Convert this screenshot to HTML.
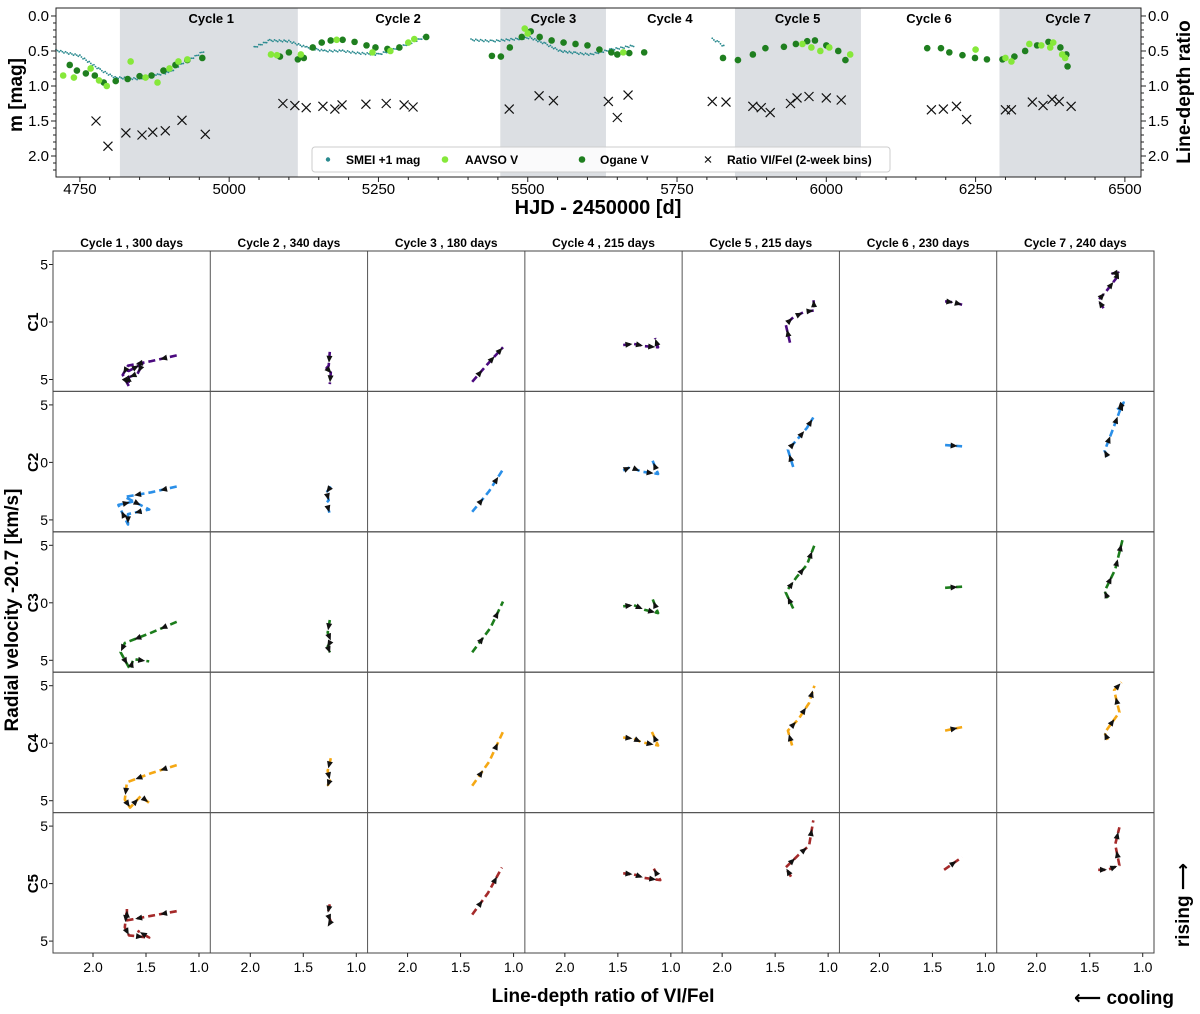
<!DOCTYPE html>
<html><head><meta charset="utf-8">
<style>
html,body{margin:0;padding:0;background:#fff;}
svg{display:block;font-family:"Liberation Sans","DejaVu Sans",sans-serif;}
</style></head>
<body>
<svg id="chart" width="1200" height="1014" viewBox="0 0 1200 1014" xmlns="http://www.w3.org/2000/svg">
<g id="toppanel"></g>
<g id="gridpanel"></g>
</svg>
<script>
// ---------- Top panel data ----------
const cycleNames = ["Cycle 1","Cycle 2","Cycle 3","Cycle 4","Cycle 5","Cycle 6","Cycle 7"];
const cycleLabelDays = [4970,5283,5543,5738,5952,6172,6405];
const shadeStarts = [4817,5454,5847,6290];
const shadeEnds = [5115,5631,6058,6527];
const xTicks = [4750,5000,5250,5500,5750,6000,6250,6500];
const yTicks = [0.0,0.5,1.0,1.5,2.0];
const smeiSegments = [
 [[4710,0.49],[4750,0.57],[4784,0.77],[4809,0.88],[4851,0.9],[4880,0.84],[4901,0.8],[4926,0.65],[4943,0.58],[4960,0.49]],
 [[5042,0.45],[5068,0.35],[5100,0.36],[5130,0.45],[5160,0.5],[5190,0.5],[5215,0.53],[5250,0.55],[5275,0.48],[5300,0.4],[5328,0.3]],
 [[5405,0.34],[5440,0.36],[5480,0.33],[5504,0.31],[5530,0.4],[5554,0.5],[5580,0.53],[5605,0.55],[5640,0.48],[5680,0.42]],
 [[5809,0.33],[5820,0.38],[5831,0.45]]
];
const aavsoPoints = [[4722,0.85],[4740,0.88],[4768,0.75],[4782,0.92],[4795,1.0],[4835,0.65],[4860,0.88],[4880,0.95],[4900,0.75],[4915,0.65],[4930,0.62],
 [5070,0.55],[5080,0.56],[5120,0.55],[5180,0.34],[5240,0.52],[5270,0.5],[5300,0.38],[5310,0.33],
 [5495,0.18],[5500,0.25],[5660,0.52],
 [5960,0.4],[5975,0.45],[5990,0.5],[6005,0.45],[6040,0.55],
 [6250,0.48],[6300,0.6],[6310,0.65],[6340,0.4],[6360,0.42],[6375,0.45],[6380,0.38],[6395,0.55],[6400,0.6]];
const oganePoints = [[4733,0.7],[4745,0.78],[4760,0.82],[4775,0.85],[4790,0.95],[4810,0.93],[4830,0.9],[4850,0.86],[4870,0.85],[4890,0.78],[4910,0.7],[4930,0.63],[4955,0.6],
 [5085,0.58],[5100,0.52],[5115,0.62],[5125,0.6],[5140,0.45],[5155,0.38],[5170,0.35],[5190,0.34],[5210,0.37],[5230,0.42],[5245,0.45],[5265,0.47],[5285,0.45],[5330,0.3],
 [5440,0.57],[5455,0.58],[5470,0.45],[5490,0.3],[5505,0.22],[5520,0.3],[5540,0.35],[5560,0.38],[5580,0.4],[5600,0.42],[5620,0.48],[5640,0.52],[5650,0.55],[5670,0.53],[5695,0.52],
 [5827,0.6],[5852,0.63],[5877,0.55],[5898,0.46],[5929,0.44],[5949,0.4],[5968,0.36],[5981,0.35],[6000,0.42],[6020,0.5],[6032,0.63],
 [6169,0.46],[6192,0.46],[6206,0.52],[6228,0.56],[6249,0.6],[6269,0.62],[6295,0.62],[6315,0.58],[6333,0.5],[6353,0.42],[6372,0.37],[6392,0.45],[6402,0.55],[6404,0.72]];
const ratioPoints = [[4777,1.5],[4797,1.86],[4827,1.67],[4854,1.7],[4872,1.66],[4893,1.64],[4921,1.49],[4960,1.69],
 [5090,1.25],[5110,1.28],[5129,1.31],[5157,1.29],[5177,1.33],[5189,1.27],[5229,1.26],[5263,1.25],[5293,1.27],[5308,1.3],
 [5469,1.33],[5519,1.14],[5543,1.21],[5635,1.22],[5650,1.45],[5668,1.13],
 [5809,1.22],[5832,1.23],[5877,1.29],[5891,1.31],[5906,1.38],[5940,1.25],[5951,1.17],[5971,1.15],[6000,1.17],[6025,1.2],
 [6176,1.34],[6196,1.33],[6218,1.29],[6235,1.48],[6300,1.34],[6310,1.34],[6345,1.23],[6363,1.28],[6378,1.19],[6390,1.22],[6410,1.29]];

// ---------- Grid panel data ----------
const colTitles = ["Cycle 1 , 300 days","Cycle 2 , 340 days","Cycle 3 , 180 days","Cycle 4 , 215 days","Cycle 5 , 215 days","Cycle 6 , 230 days","Cycle 7 , 240 days"];
const rowNames = ["C1","C2","C3","C4","C5"];
const rowColors = ["#4b0a7f","#2a8fe8","#1c7d1c","#f5a814","#a52a2a"];
const ratioTicks = [2.0,1.5,1.0];
const velTicks = [5,0,-5];
const velTickLabels = ["5","0","5"];
const phasePaths = [
 [
  [[1.21,-2.9],[1.45,-3.4],[1.67,-3.8],[1.72,-4.6],[1.66,-5.6],[1.67,-4.3],[1.53,-3.6],[1.58,-4.5],[1.66,-4.8]],
  [[1.25,-2.6],[1.26,-3.8],[1.28,-4.0],[1.24,-4.4],[1.25,-5.4]],
  [[1.39,-5.2],[1.25,-3.7],[1.16,-2.8],[1.10,-2.2]],
  [[1.45,-2.0],[1.35,-1.9],[1.25,-2.1],[1.12,-2.2],[1.15,-1.4]],
  [[1.36,-1.8],[1.40,-0.2],[1.33,0.4],[1.22,0.9],[1.13,1.0],[1.14,2.1]],
  [[1.38,1.8],[1.30,1.7],[1.22,1.5]],
  [[1.37,1.2],[1.42,1.9],[1.35,2.6],[1.25,3.8],[1.23,4.3],[1.30,4.2]]
 ],
 [
  [[1.21,-2.1],[1.45,-2.6],[1.70,-3.0],[1.47,-4.1],[1.67,-4.5],[1.67,-5.4],[1.76,-3.7],[1.62,-3.4]],
  [[1.24,-2.1],[1.28,-2.6],[1.26,-3.3],[1.28,-3.5],[1.25,-4.5]],
  [[1.39,-4.3],[1.23,-2.5],[1.10,-0.6]],
  [[1.45,-0.7],[1.38,-0.4],[1.28,-0.8],[1.12,-1.0],[1.18,0.3]],
  [[1.33,-0.4],[1.38,1.1],[1.30,1.9],[1.20,3.0],[1.14,3.9]],
  [[1.38,1.5],[1.22,1.4]],
  [[1.33,0.5],[1.36,1.0],[1.28,2.9],[1.22,4.4],[1.18,5.2],[1.24,4.6]]
 ],
 [
  [[1.21,-1.65],[1.45,-2.6],[1.70,-3.5],[1.74,-4.3],[1.65,-5.8],[1.62,-4.9],[1.47,-5.1]],
  [[1.25,-1.5],[1.27,-2.6],[1.24,-3.3],[1.27,-3.8],[1.25,-4.3]],
  [[1.39,-4.3],[1.22,-2.2],[1.10,0.1]],
  [[1.45,-0.3],[1.35,-0.2],[1.25,-0.6],[1.12,-0.9],[1.18,0.5]],
  [[1.33,-0.5],[1.40,0.9],[1.30,2.2],[1.20,3.3],[1.13,5.0]],
  [[1.38,1.3],[1.22,1.4]],
  [[1.33,0.4],[1.36,1.0],[1.26,2.9],[1.23,4.0],[1.19,5.5]]
 ],
 [
  [[1.21,-1.9],[1.45,-2.6],[1.68,-3.4],[1.70,-4.9],[1.65,-5.6],[1.55,-4.6],[1.47,-5.2]],
  [[1.24,-1.3],[1.27,-2.4],[1.25,-3.2],[1.27,-3.7]],
  [[1.39,-3.7],[1.23,-1.6],[1.10,1.0]],
  [[1.45,0.5],[1.35,0.4],[1.28,0.1],[1.12,-0.2],[1.18,1.0]],
  [[1.34,-0.2],[1.38,1.1],[1.28,2.1],[1.18,3.5],[1.13,5.0]],
  [[1.38,1.1],[1.22,1.4]],
  [[1.33,0.3],[1.36,0.9],[1.22,2.7],[1.27,4.6],[1.20,5.3]]
 ],
 [
  [[1.21,-2.4],[1.45,-2.8],[1.68,-3.2],[1.68,-2.2],[1.70,-3.8],[1.66,-4.5],[1.47,-4.7],[1.58,-4.1]],
  [[1.25,-1.8],[1.27,-2.6],[1.24,-3.3],[1.26,-3.6]],
  [[1.39,-2.7],[1.24,-0.8],[1.11,1.4]],
  [[1.45,0.9],[1.35,0.8],[1.25,0.5],[1.10,0.3],[1.18,1.6]],
  [[1.35,0.6],[1.40,1.4],[1.28,2.5],[1.18,3.3],[1.14,5.5]],
  [[1.39,1.2],[1.22,2.3]],
  [[1.42,1.2],[1.33,1.2],[1.22,1.6],[1.26,3.4],[1.22,4.9]]
 ]
];

const NS="http://www.w3.org/2000/svg";
function mk(parent,tag,attrs,text){const e=document.createElementNS(NS,tag);for(const k in attrs)e.setAttribute(k,attrs[k]);if(text!==undefined)e.textContent=text;parent.appendChild(e);return e;}

// ---------- Top panel ----------
const topPanel=document.getElementById('toppanel');
const PL=56,PR=1141,PT=8,PB=177;
const dMin=4710,dMax=6527,mMin=-0.114,mMax=2.3;
const xs=d=>PL+(d-dMin)/(dMax-dMin)*(PR-PL);
const ys=m=>PT+(m-mMin)/(mMax-mMin)*(PB-PT);

for(let i=0;i<shadeStarts.length;i++){
 const r=mk(topPanel,'rect',{x:xs(shadeStarts[i]),y:PT,width:Math.min(xs(shadeEnds[i]),PR)-xs(shadeStarts[i]),height:PB-PT,fill:'#dcdfe3'});
 
 
}
cycleNames.forEach((n,i)=>{
 const tx=mk(topPanel,'text',{x:xs(cycleLabelDays[i]),y:23,'font-size':13,'font-weight':'bold','text-anchor':'middle'},n);
 
 
});
smeiSegments.forEach(seg=>{
 for(let i=0;i<seg.length-1;i++){
  const d0=seg[i][0],m0=seg[i][1],d1=seg[i+1][0],m1=seg[i+1][1];
  const n=Math.max(2,Math.round((xs(d1)-xs(d0))/1.6));
  for(let k=0;k<n;k++){const f=k/n;
   const c=mk(topPanel,'circle',{cx:xs(d0+(d1-d0)*f),cy:ys(m0+(m1-m0)*f)+((k%3)-1)*0.8,r:0.9,fill:'#2a8a8f'});
   
   
  }
 }
});
oganePoints.forEach(p=>{const c=mk(topPanel,'circle',{cx:xs(p[0]),cy:ys(p[1]),r:3.3,fill:'#1f7f1f'});
 
 });
aavsoPoints.forEach(p=>{const c=mk(topPanel,'circle',{cx:xs(p[0]),cy:ys(p[1]),r:3.3,fill:'#86e83a'});
 
 });
ratioPoints.forEach(p=>{const x=xs(p[0]),y=ys(p[1]);
 const g=mk(topPanel,'path',{d:`M${x-4.5},${y-4.5}L${x+4.5},${y+4.5}M${x-4.5},${y+4.5}L${x+4.5},${y-4.5}`,stroke:'#111','stroke-width':1.2,fill:'none'});
 
 });
const topFrame=mk(topPanel,'rect',{x:PL,y:PT,width:PR-PL,height:PB-PT,fill:'none',stroke:'#222','stroke-width':1});


for(let d=4750;d<=6500;d+=50){const x=xs(d);const maj=xTicks.includes(d);
 mk(topPanel,'line',{x1:x,x2:x,y1:PB,y2:PB+(maj?5:3),stroke:'#222'});}
xTicks.forEach(d=>{const tx=mk(topPanel,'text',{x:xs(d),y:PB+17,'font-size':15,'text-anchor':'middle'},d);
 
 });
for(let m=0;m<=2.2001;m+=0.1){const y=ys(m);const maj=Math.abs(m*2-Math.round(m*2))<1e-6;
 mk(topPanel,'line',{x1:PL,x2:PL-(maj?5:3),y1:y,y2:y,stroke:'#222'});
 mk(topPanel,'line',{x1:PR,x2:PR+(maj?5:3),y1:y,y2:y,stroke:'#222'});}
yTicks.forEach(m=>{
 const t1=mk(topPanel,'text',{x:PL-7,y:ys(m)+5,'font-size':15,'text-anchor':'end'},m.toFixed(1));
 
 
 const t2=mk(topPanel,'text',{x:PR+7,y:ys(m)+5,'font-size':15,'text-anchor':'start'},m.toFixed(1));
 
 
});
let lbl=mk(topPanel,'text',{x:0,y:0,'font-size':19,'font-weight':'bold','text-anchor':'middle',transform:'translate(22,95) rotate(-90)'},'m [mag]');


lbl=mk(topPanel,'text',{x:0,y:0,'font-size':19,'font-weight':'bold','text-anchor':'middle',transform:'translate(1190,92) rotate(-90)'},'Line-depth ratio');


lbl=mk(topPanel,'text',{x:598,y:214,'font-size':20,'font-weight':'bold','text-anchor':'middle'},'HJD - 2450000 [d]');


const lg=mk(topPanel,'g',{});


mk(lg,'rect',{x:312,y:147,width:578,height:25,rx:3,fill:'#fff','fill-opacity':0.85,stroke:'#ccc'});
const le=[['dot','#2a8a8f',2.2,328,'SMEI +1 mag',346],['dot','#86e83a',3.3,445,'AAVSO V',465],['dot','#1f7f1f',3.3,582,'Ogane V',600],['x','#111',0,708,'Ratio VI/FeI (2-week bins)',727]];
le.forEach(e=>{
 const g=mk(lg,'g',{});
 
 
 if(e[0]==='dot')mk(g,'circle',{cx:e[3],cy:159.5,r:e[2],fill:e[1]});
 else mk(g,'path',{d:`M${e[3]-3},156.5L${e[3]+3},162.5M${e[3]-3},162.5L${e[3]+3},156.5`,stroke:'#111','stroke-width':1.2});
 mk(g,'text',{x:e[5],y:164,'font-size':12,'font-weight':'bold'},e[4]);
});

// ---------- Grid panel ----------
const gridPanel=document.getElementById('gridpanel');
const GL=53,GR=1154,GT=251,GB=953;
const cw=(GR-GL)/7,rh=(GB-GT)/5;
const rxs=(c,r)=>GL+c*cw+40+(2.0-r)*106;
const vys=(row,v)=>GT+row*rh+71-v*11.5;
colTitles.forEach((s,c)=>{const tx=mk(gridPanel,'text',{x:GL+c*cw+cw/2,y:247,'font-size':12,'font-weight':'bold','text-anchor':'middle'},s);
 
 });
for(let row=0;row<5;row++){
 for(let c=0;c<7;c++){
  const cell=mk(gridPanel,'g',{});
  
  
  const pts=phasePaths[row][c];
  const d=pts.map((p,i)=>(i?'L':'M')+rxs(c,p[0]).toFixed(1)+','+vys(row,p[1]).toFixed(1)).join('');
  const pl=mk(cell,'path',{d:d,fill:'none',stroke:rowColors[row],'stroke-width':2.6,'stroke-dasharray':'7 4','stroke-linejoin':'round'});
  
  
  for(let i=0;i<pts.length-1;i++){
   const x0=rxs(c,pts[i][0]),y0=vys(row,pts[i][1]),x1=rxs(c,pts[i+1][0]),y1=vys(row,pts[i+1][1]);
   const L=Math.hypot(x1-x0,y1-y0);if(L<4)continue;
   const ux=(x1-x0)/L,uy=(y1-y0)/L,mx=(x0+x1)/2,my=(y0+y1)/2;
   const a=mk(cell,'path',{d:`M${mx+ux*4},${my+uy*4}L${mx-ux*3-uy*3},${my-uy*3+ux*3}L${mx-ux*3+uy*3},${my-uy*3-ux*3}Z`,fill:'#111'});
   
   
  }
 }
 const tl=mk(gridPanel,'text',{x:0,y:0,'font-size':15,'font-weight':'bold','text-anchor':'middle',transform:`translate(38,${vys(row,0)}) rotate(-90)`},rowNames[row]);
 
 
 velTicks.forEach((v,i)=>{
  mk(gridPanel,'line',{x1:GL,x2:GL-4,y1:vys(row,v),y2:vys(row,v),stroke:'#222'});
  const tt=mk(gridPanel,'text',{x:GL-5,y:vys(row,v)+5,'font-size':14,'text-anchor':'end'},velTickLabels[i]);
  
  
 });
}
for(let c=1;c<7;c++)mk(gridPanel,'line',{x1:GL+c*cw,x2:GL+c*cw,y1:GT,y2:GB,stroke:'#555','stroke-width':1});
for(let r=1;r<5;r++)mk(gridPanel,'line',{x1:GL,x2:GR,y1:GT+r*rh,y2:GT+r*rh,stroke:'#555','stroke-width':1.3});
const gf=mk(gridPanel,'rect',{x:GL,y:GT,width:GR-GL,height:GB-GT,fill:'none',stroke:'#444','stroke-width':1});


for(let c=0;c<7;c++){ratioTicks.forEach(r=>{
 mk(gridPanel,'line',{x1:rxs(c,r),x2:rxs(c,r),y1:GB,y2:GB+4,stroke:'#222'});
 const tt=mk(gridPanel,'text',{x:rxs(c,r),y:GB+19,'font-size':14,'text-anchor':'middle'},r.toFixed(1));
 
 
});}
lbl=mk(gridPanel,'text',{x:0,y:0,'font-size':19,'font-weight':'bold','text-anchor':'middle',transform:'translate(18,610) rotate(-90)'},'Radial velocity -20.7 [km/s]');


lbl=mk(gridPanel,'text',{x:603,y:1002,'font-size':19,'font-weight':'bold','text-anchor':'middle'},'Line-depth ratio of VI/FeI');


lbl=mk(gridPanel,'text',{x:1124,y:1004,'font-size':19,'font-weight':'bold','text-anchor':'middle'},'⟵ cooling');


lbl=mk(gridPanel,'text',{x:0,y:0,'font-size':19,'font-weight':'bold','text-anchor':'middle',transform:'translate(1189,905) rotate(-90)'},'rising ⟶');


</script>
</body></html>
